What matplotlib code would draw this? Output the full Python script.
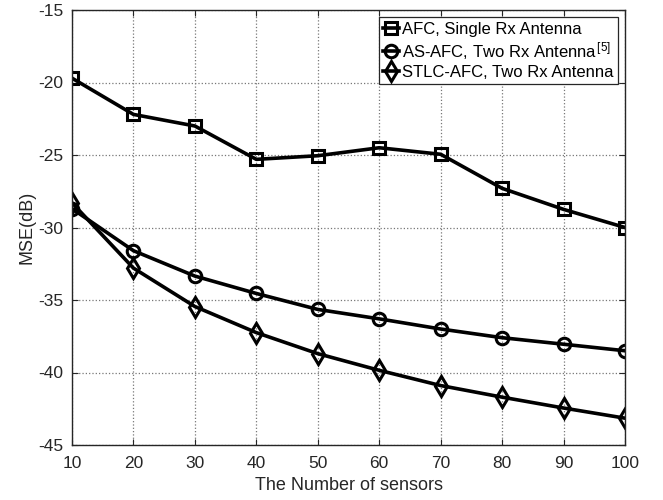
import matplotlib.pyplot as plt

plt.rcParams['font.family'] = ['Liberation Sans', 'DejaVu Sans']
plt.rcParams['mathtext.fontset'] = 'custom'
plt.rcParams['mathtext.rm'] = 'Liberation Sans'
plt.rcParams['mathtext.it'] = 'Liberation Sans'
plt.rcParams['axes.unicode_minus'] = False

sensors = [10, 20, 30, 40, 50, 60, 70, 80, 90, 100]
afc_single = [-19.7, -22.2, -23.0, -25.3, -25.05, -24.5, -24.95, -27.3, -28.75, -30.0]
as_afc_two = [-28.7, -31.6, -33.35, -34.55, -35.65, -36.3, -37.0, -37.6, -38.05, -38.5]
stlc_afc_two = [-28.3, -32.8, -35.45, -37.25, -38.7, -39.85, -40.9, -41.7, -42.45, -43.15]

labels = ['AFC, Single Rx Antenna',
          r'AS-AFC, Two Rx Antenna$^{\,[5]}$',
          'STLC-AFC, Two Rx Antenna']

fig = plt.figure(figsize=(6.63, 5.0), dpi=100)
ax = fig.add_axes([0.1086, 0.11, 0.8341, 0.87])

style = dict(color='black', lw=2.6, markeredgewidth=2.2, markerfacecolor='none')
ax.plot(sensors, afc_single, marker='s', markersize=9, label=labels[0], **style)
ax.plot(sensors, as_afc_two, marker='o', markersize=9, label=labels[1], **style)
ax.plot(sensors, stlc_afc_two, marker='d', markersize=10, label=labels[2], **style)

ax.set_xlim(10, 100)
ax.set_ylim(-45, -15)
ax.set_xticks(sensors)
ax.set_yticks([-45, -40, -35, -30, -25, -20, -15])
ax.tick_params(direction='in', labelsize=12.5, colors='#262626', length=4, top=True, right=True)
ax.tick_params(axis='x', pad=8)
ax.tick_params(axis='y', pad=6)
ax.grid(True, linestyle=':', color='#777777', lw=0.9)
for s in ax.spines.values():
    s.set_color('#262626')
    s.set_linewidth(1.0)

ax.set_xlabel('The Number of sensors', fontsize=13, color='#262626', labelpad=4)
ax.set_ylabel('MSE(dB)', fontsize=13, color='#262626', labelpad=2)

leg = ax.legend(loc='upper right', fontsize=12, handlelength=1.0, handletextpad=0.15,
                borderpad=0.25, labelspacing=0.2, borderaxespad=0.45, fancybox=False,
                framealpha=1, edgecolor='#262626')
leg.get_frame().set_linewidth(0.9)

fig.savefig('out.png', dpi=100)
